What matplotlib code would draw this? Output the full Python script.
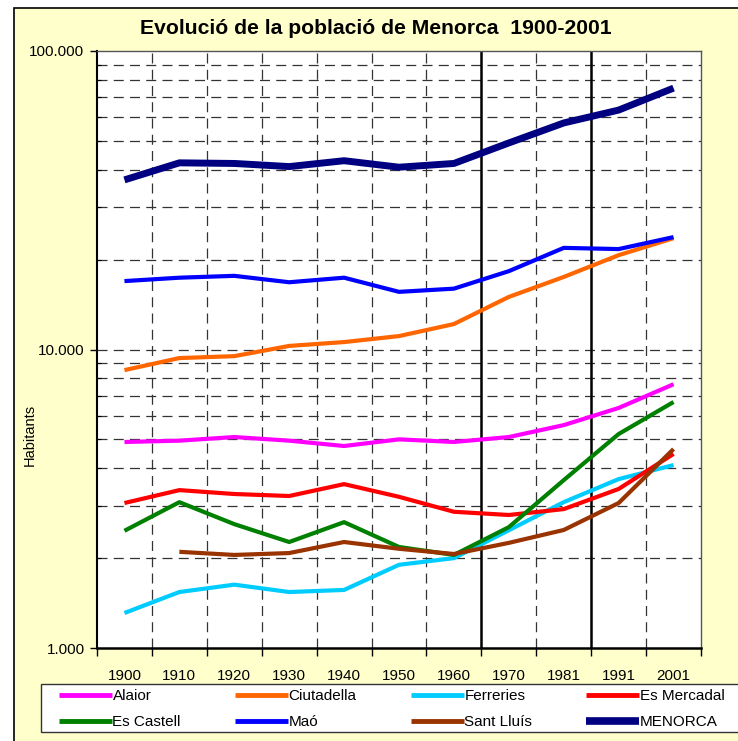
import numpy as np
import matplotlib
matplotlib.use("Agg")
import matplotlib.pyplot as plt
from matplotlib.patches import Rectangle
from matplotlib.lines import Line2D
from matplotlib.ticker import FixedLocator, NullFormatter, FixedFormatter

plt.rcParams['font.family'] = ['Liberation Sans', 'DejaVu Sans']

years = ["1900", "1910", "1920", "1930", "1940", "1950", "1960", "1970", "1981", "1991", "2001"]

alaior = [4900, 4950, 5090, 4950, 4750, 5000, 4900, 5090, 5580, 6370, 7650]
ciutadella = [8530, 9360, 9500, 10280, 10590, 11090, 12170, 15000, 17500, 20700, 23600]
ferreries = [1310, 1540, 1630, 1540, 1565, 1900, 2000, 2480, 3080, 3680, 4100]
es_mercadal = [3060, 3380, 3280, 3230, 3540, 3210, 2860, 2790, 2920, 3410, 4470]
es_castell = [2470, 3080, 2600, 2265, 2640, 2180, 2050, 2540, 3650, 5210, 6670]
mao = [16950, 17400, 17650, 16800, 17400, 15600, 15990, 18300, 21900, 21700, 23800]
sant_lluis = [np.nan, 2100, 2050, 2080, 2265, 2150, 2065, 2250, 2485, 3060, 4640]
menorca = [37000, 42200, 42000, 41000, 42900, 40800, 42000, 49200, 57400, 63400, 75100]

series = [
    ("Alaior", alaior, "#FF00FF", 3.0),
    ("Ciutadella", ciutadella, "#FF6600", 3.0),
    ("Ferreries", ferreries, "#00CCFF", 3.0),
    ("Es Mercadal", es_mercadal, "#FF0000", 3.0),
    ("Es Castell", es_castell, "#008000", 3.0),
    ("Maó", mao, "#0000FF", 3.0),
    ("Sant Lluís", sant_lluis, "#993300", 3.0),
    ("MENORCA", menorca, "#000080", 5.0),
]

W, H = 738, 741
fig = plt.figure(figsize=(W / 100, H / 100), dpi=100)
fig.patch.set_facecolor("white")
bg = Rectangle((14 / W, -0.05), 1.2, 1 - 8 / H + 0.05, transform=fig.transFigure,
               facecolor="#FFFFCC", edgecolor="black", linewidth=1.2, zorder=-10)
fig.patches.append(bg)
legframe = Rectangle((41 / W, 1 - 732 / H), (770 - 41) / W, 48 / H, transform=fig.transFigure,
                     facecolor="white", edgecolor="#333333", linewidth=1.0, zorder=-5)
fig.patches.append(legframe)

ax = fig.add_axes([97 / W, 1 - 648 / H, (701 - 97) / W, (648 - 51) / H])
ax.set_facecolor("white")
x = np.arange(len(years))
handles = {}
for name, vals, col, lw in series:
    h, = ax.plot(x, vals, color=col, linewidth=lw, solid_capstyle="butt", zorder=5)
    handles[name] = h

ax.set_yscale("log")
ax.set_ylim(1000, 100000)
ax.set_xlim(-0.5, len(years) - 0.5)

# gridlines
minor_vals = [m * 10 ** e for e in (3, 4) for m in range(2, 10)]
for v in minor_vals + [10000]:
    ax.axhline(v, color="#333333", linewidth=0.9, linestyle=(0, (8, 5)), zorder=1)
for b in np.arange(0.5, len(years) - 0.5, 1.0):
    if b in (6.5, 8.5):
        ax.axvline(b, color="black", linewidth=1.8, zorder=2)
    else:
        ax.axvline(b, color="#333333", linewidth=0.9, linestyle=(0, (8, 5)), zorder=1)

ax.yaxis.set_major_locator(FixedLocator([1000, 10000, 100000]))
ax.yaxis.set_major_formatter(FixedFormatter(["1.000", "10.000", "100.000"]))
ax.yaxis.set_minor_locator(FixedLocator(minor_vals))
ax.yaxis.set_minor_formatter(NullFormatter())
ax.tick_params(axis="y", which="major", direction="out", length=5, width=1, labelsize=11, pad=4)
ax.tick_params(axis="y", which="minor", direction="in", length=3, width=0.8)

ax.xaxis.set_major_locator(FixedLocator(np.arange(-0.5, len(years), 1.0)))
ax.xaxis.set_major_formatter(NullFormatter())
ax.xaxis.set_minor_locator(FixedLocator(x))
ax.xaxis.set_minor_formatter(FixedFormatter(years))
ax.tick_params(axis="x", which="major", direction="out", length=6, width=1)
ax.tick_params(axis="x", which="minor", length=0, labelsize=11, pad=15)

ax.spines["left"].set_linewidth(1.5)
ax.spines["bottom"].set_linewidth(1.8)
for s in ("top", "right"):
    ax.spines[s].set_color("#555555")
    ax.spines[s].set_linewidth(1.0)

ax.set_ylabel("Habitants", fontsize=10.5)
ax.yaxis.set_label_coords((37 - 97) / (701 - 97), (648 - 435) / (648 - 51))

fig.text(376 / W, 1 - 28 / H, "Evolució de la població de Menorca  1900-2001",
         ha="center", va="center", fontsize=15.2, fontweight="bold")

order = ["Alaior", "Es Castell", "Ciutadella", "Maó", "Ferreries", "Sant Lluís",
         "Es Mercadal", "MENORCA"]
leg_handles = []
for n in order:
    h = handles[n]
    leg_handles.append(Line2D([], [], color=h.get_color(), linewidth=h.get_linewidth() + 0.5,
                              solid_capstyle="butt"))
fs = 11
leg = fig.legend(leg_handles, order, ncol=4, loc="upper left",
                 bbox_to_anchor=(59 / W, 1 - 689 / H),
                 fontsize=fs, frameon=False,
                 handlelength=3.45, handletextpad=0.05,
                 borderaxespad=0, borderpad=0, labelspacing=0.78, columnspacing=3.55)

fig.savefig("out.png", dpi=100)
